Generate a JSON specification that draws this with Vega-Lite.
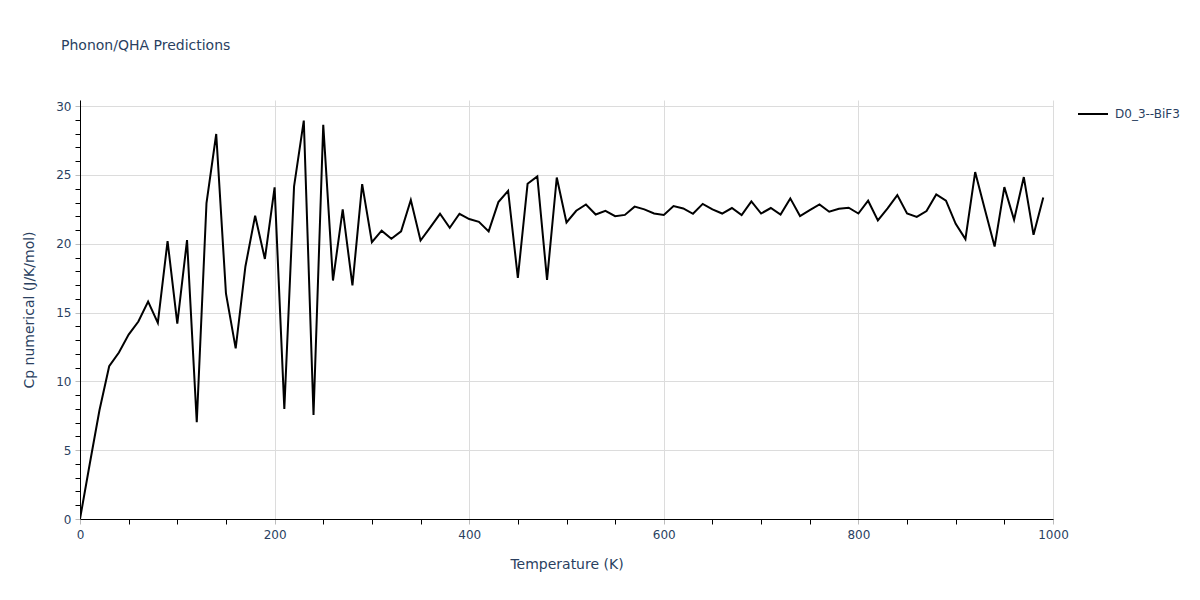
{
  "$schema": "https://vega.github.io/schema/vega-lite/v6.json",
  "autosize": {"type": "none"},
  "width": 973,
  "height": 419,
  "padding": {"left": 80, "top": 100, "right": 147, "bottom": 81},
  "background": "white",
  "config": {
    "font": "DejaVu Sans",
    "view": {"stroke": null},
    "axis": {"labelFont": "DejaVu Sans", "titleFont": "DejaVu Sans", "labelColor": "#2a3f5f", "titleColor": "#2a3f5f", "labelFontSize": 12, "titleFontSize": 14, "titleFontWeight": "normal", "domainColor": "#000000", "domainWidth": 1}
  },
  "title": {
    "text": "Phonon/QHA Predictions",
    "anchor": "start",
    "frame": "group",
    "dx": -19,
    "offset": 34,
    "baseline": "alphabetic",
    "fontSize": 14,
    "fontWeight": "normal",
    "font": "DejaVu Sans",
    "color": "#2a3f5f"
  },
  "data": {
    "values": [
      {"T": 0, "Cp": 0.0, "s": "D0_3--BiF3"},
      {"T": 10, "Cp": 4.0, "s": "D0_3--BiF3"},
      {"T": 20, "Cp": 7.9, "s": "D0_3--BiF3"},
      {"T": 30, "Cp": 11.1, "s": "D0_3--BiF3"},
      {"T": 40, "Cp": 12.1, "s": "D0_3--BiF3"},
      {"T": 50, "Cp": 13.4, "s": "D0_3--BiF3"},
      {"T": 60, "Cp": 14.35, "s": "D0_3--BiF3"},
      {"T": 70, "Cp": 15.8, "s": "D0_3--BiF3"},
      {"T": 80, "Cp": 14.25, "s": "D0_3--BiF3"},
      {"T": 90, "Cp": 20.2, "s": "D0_3--BiF3"},
      {"T": 100, "Cp": 14.2, "s": "D0_3--BiF3"},
      {"T": 110, "Cp": 20.27, "s": "D0_3--BiF3"},
      {"T": 120, "Cp": 7.03, "s": "D0_3--BiF3"},
      {"T": 130, "Cp": 22.96, "s": "D0_3--BiF3"},
      {"T": 140, "Cp": 27.98, "s": "D0_3--BiF3"},
      {"T": 150, "Cp": 16.4, "s": "D0_3--BiF3"},
      {"T": 160, "Cp": 12.4, "s": "D0_3--BiF3"},
      {"T": 170, "Cp": 18.35, "s": "D0_3--BiF3"},
      {"T": 180, "Cp": 22.04, "s": "D0_3--BiF3"},
      {"T": 190, "Cp": 18.9, "s": "D0_3--BiF3"},
      {"T": 200, "Cp": 24.1, "s": "D0_3--BiF3"},
      {"T": 210, "Cp": 8.0, "s": "D0_3--BiF3"},
      {"T": 220, "Cp": 24.17, "s": "D0_3--BiF3"},
      {"T": 230, "Cp": 28.95, "s": "D0_3--BiF3"},
      {"T": 240, "Cp": 7.56, "s": "D0_3--BiF3"},
      {"T": 250, "Cp": 28.65, "s": "D0_3--BiF3"},
      {"T": 260, "Cp": 17.33, "s": "D0_3--BiF3"},
      {"T": 270, "Cp": 22.5, "s": "D0_3--BiF3"},
      {"T": 280, "Cp": 16.97, "s": "D0_3--BiF3"},
      {"T": 290, "Cp": 24.34, "s": "D0_3--BiF3"},
      {"T": 300, "Cp": 20.12, "s": "D0_3--BiF3"},
      {"T": 310, "Cp": 20.95, "s": "D0_3--BiF3"},
      {"T": 320, "Cp": 20.36, "s": "D0_3--BiF3"},
      {"T": 330, "Cp": 20.9, "s": "D0_3--BiF3"},
      {"T": 340, "Cp": 23.18, "s": "D0_3--BiF3"},
      {"T": 350, "Cp": 20.24, "s": "D0_3--BiF3"},
      {"T": 360, "Cp": 21.2, "s": "D0_3--BiF3"},
      {"T": 370, "Cp": 22.18, "s": "D0_3--BiF3"},
      {"T": 380, "Cp": 21.16, "s": "D0_3--BiF3"},
      {"T": 390, "Cp": 22.18, "s": "D0_3--BiF3"},
      {"T": 400, "Cp": 21.8, "s": "D0_3--BiF3"},
      {"T": 410, "Cp": 21.6, "s": "D0_3--BiF3"},
      {"T": 420, "Cp": 20.9, "s": "D0_3--BiF3"},
      {"T": 430, "Cp": 23.03, "s": "D0_3--BiF3"},
      {"T": 440, "Cp": 23.85, "s": "D0_3--BiF3"},
      {"T": 450, "Cp": 17.53, "s": "D0_3--BiF3"},
      {"T": 460, "Cp": 24.36, "s": "D0_3--BiF3"},
      {"T": 470, "Cp": 24.9, "s": "D0_3--BiF3"},
      {"T": 480, "Cp": 17.38, "s": "D0_3--BiF3"},
      {"T": 490, "Cp": 24.82, "s": "D0_3--BiF3"},
      {"T": 500, "Cp": 21.55, "s": "D0_3--BiF3"},
      {"T": 510, "Cp": 22.4, "s": "D0_3--BiF3"},
      {"T": 520, "Cp": 22.86, "s": "D0_3--BiF3"},
      {"T": 530, "Cp": 22.13, "s": "D0_3--BiF3"},
      {"T": 540, "Cp": 22.4, "s": "D0_3--BiF3"},
      {"T": 550, "Cp": 22.01, "s": "D0_3--BiF3"},
      {"T": 560, "Cp": 22.1, "s": "D0_3--BiF3"},
      {"T": 570, "Cp": 22.7, "s": "D0_3--BiF3"},
      {"T": 580, "Cp": 22.5, "s": "D0_3--BiF3"},
      {"T": 590, "Cp": 22.2, "s": "D0_3--BiF3"},
      {"T": 600, "Cp": 22.1, "s": "D0_3--BiF3"},
      {"T": 610, "Cp": 22.74, "s": "D0_3--BiF3"},
      {"T": 620, "Cp": 22.57, "s": "D0_3--BiF3"},
      {"T": 630, "Cp": 22.18, "s": "D0_3--BiF3"},
      {"T": 640, "Cp": 22.9, "s": "D0_3--BiF3"},
      {"T": 650, "Cp": 22.5, "s": "D0_3--BiF3"},
      {"T": 660, "Cp": 22.2, "s": "D0_3--BiF3"},
      {"T": 670, "Cp": 22.6, "s": "D0_3--BiF3"},
      {"T": 680, "Cp": 22.08, "s": "D0_3--BiF3"},
      {"T": 690, "Cp": 23.08, "s": "D0_3--BiF3"},
      {"T": 700, "Cp": 22.2, "s": "D0_3--BiF3"},
      {"T": 710, "Cp": 22.6, "s": "D0_3--BiF3"},
      {"T": 720, "Cp": 22.13, "s": "D0_3--BiF3"},
      {"T": 730, "Cp": 23.3, "s": "D0_3--BiF3"},
      {"T": 740, "Cp": 22.02, "s": "D0_3--BiF3"},
      {"T": 750, "Cp": 22.45, "s": "D0_3--BiF3"},
      {"T": 760, "Cp": 22.86, "s": "D0_3--BiF3"},
      {"T": 770, "Cp": 22.33, "s": "D0_3--BiF3"},
      {"T": 780, "Cp": 22.55, "s": "D0_3--BiF3"},
      {"T": 790, "Cp": 22.62, "s": "D0_3--BiF3"},
      {"T": 800, "Cp": 22.2, "s": "D0_3--BiF3"},
      {"T": 810, "Cp": 23.13, "s": "D0_3--BiF3"},
      {"T": 820, "Cp": 21.7, "s": "D0_3--BiF3"},
      {"T": 830, "Cp": 22.57, "s": "D0_3--BiF3"},
      {"T": 840, "Cp": 23.54, "s": "D0_3--BiF3"},
      {"T": 850, "Cp": 22.2, "s": "D0_3--BiF3"},
      {"T": 860, "Cp": 21.96, "s": "D0_3--BiF3"},
      {"T": 870, "Cp": 22.38, "s": "D0_3--BiF3"},
      {"T": 880, "Cp": 23.59, "s": "D0_3--BiF3"},
      {"T": 890, "Cp": 23.13, "s": "D0_3--BiF3"},
      {"T": 900, "Cp": 21.45, "s": "D0_3--BiF3"},
      {"T": 910, "Cp": 20.34, "s": "D0_3--BiF3"},
      {"T": 920, "Cp": 25.21, "s": "D0_3--BiF3"},
      {"T": 930, "Cp": 22.5, "s": "D0_3--BiF3"},
      {"T": 940, "Cp": 19.8, "s": "D0_3--BiF3"},
      {"T": 950, "Cp": 24.12, "s": "D0_3--BiF3"},
      {"T": 960, "Cp": 21.75, "s": "D0_3--BiF3"},
      {"T": 970, "Cp": 24.85, "s": "D0_3--BiF3"},
      {"T": 980, "Cp": 20.65, "s": "D0_3--BiF3"},
      {"T": 990, "Cp": 23.37, "s": "D0_3--BiF3"}
    ]
  },
  "mark": {"type": "line", "strokeWidth": 2, "clip": true},
  "encoding": {
    "x": {
      "field": "T",
      "type": "quantitative",
      "scale": {"domain": [0, 1000], "nice": false, "zero": false},
      "axis": {
        "title": "Temperature (K)",
        "titleY": 49,
        "titleBaseline": "alphabetic",
        "values": [0, 50, 100, 150, 200, 250, 300, 350, 400, 450, 500, 550, 600, 650, 700, 750, 800, 850, 900, 950, 1000],
        "labelExpr": "datum.value % 200 == 0 ? datum.label : ''",
        "format": "d",
        "labelPadding": 5,
        "tickSize": 5,
        "tickColor": {"condition": {"test": "datum.value % 200 == 0", "value": "#bbbbbb"}, "value": "#000000"},
        "gridColor": {"condition": {"test": "datum.value % 200 == 0", "value": "#dcdcdc"}, "value": "transparent"},
        "labelOverlap": false,
        "labelFlush": false
      }
    },
    "y": {
      "field": "Cp",
      "type": "quantitative",
      "scale": {"domain": [0, 30.45], "nice": false, "zero": false},
      "axis": {
        "title": "Cp numerical (J/K/mol)",
        "titleX": -47,
        "titleBaseline": "alphabetic",
        "values": [0, 1, 2, 3, 4, 5, 6, 7, 8, 9, 10, 11, 12, 13, 14, 15, 16, 17, 18, 19, 20, 21, 22, 23, 24, 25, 26, 27, 28, 29, 30],
        "labelExpr": "datum.value % 5 == 0 ? datum.label : ''",
        "labelPadding": 4,
        "tickSize": 5,
        "tickColor": {"condition": {"test": "datum.value % 5 == 0", "value": "#bbbbbb"}, "value": "#000000"},
        "gridColor": {"condition": {"test": "datum.value % 5 == 0", "value": "#dcdcdc"}, "value": "transparent"},
        "labelOverlap": false,
        "labelFlush": false
      }
    },
    "color": {
      "field": "s",
      "type": "nominal",
      "scale": {"range": ["#000000"]},
      "legend": {
        "title": null,
        "orient": "none",
        "legendX": 997,
        "legendY": -2,
        "symbolType": "stroke",
        "symbolSize": 900,
        "symbolStrokeWidth": 2,
        "labelOffset": 6,
        "labelFontSize": 12,
        "labelFont": "DejaVu Sans",
        "labelColor": "#2a3f5f"
      }
    }
  }
}
